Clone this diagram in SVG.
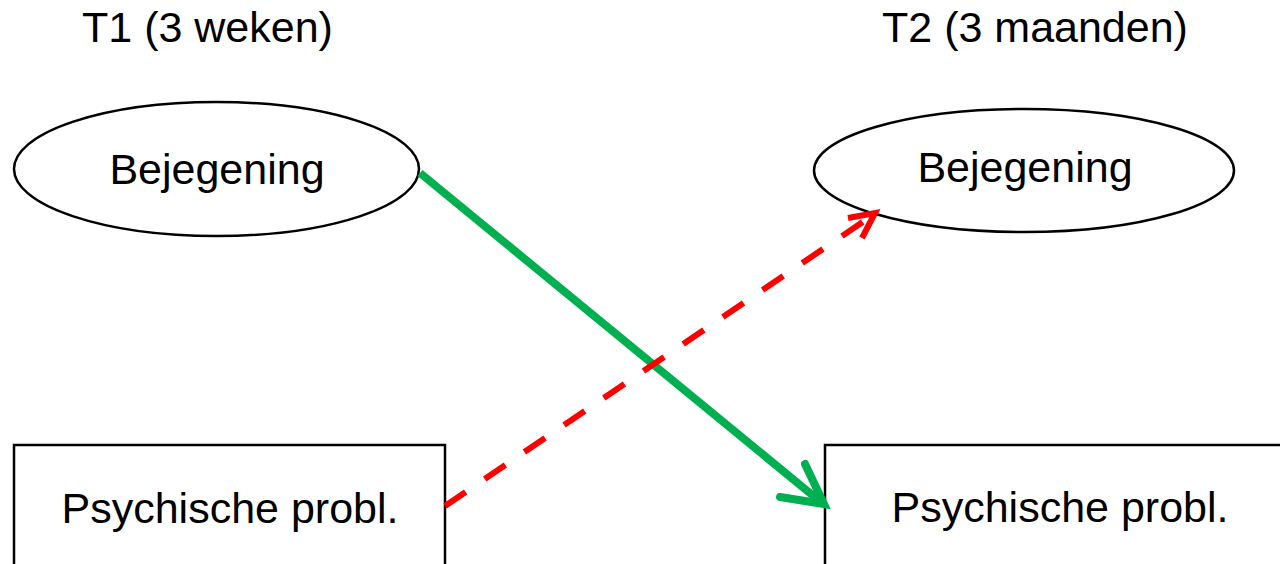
<svg xmlns="http://www.w3.org/2000/svg" width="1280" height="564" viewBox="0 0 1280 564">
<style>
text{font-family:"Liberation Sans",Arial,sans-serif;font-size:43px;fill:#000;}
.node{fill:#fff;stroke:#000;stroke-width:2.5;}
.green{fill:none;stroke:#00B050;stroke-width:8;stroke-linejoin:miter;}
.greenhead{fill:none;stroke:#00B050;stroke-width:8;stroke-linecap:round;stroke-linejoin:miter;}
.red{fill:none;stroke:#FF0000;stroke-width:6;stroke-dasharray:25 23;}
.redhead{fill:none;stroke:#FF0000;stroke-width:6;stroke-linejoin:miter;}
</style>
<rect width="1280" height="564" fill="#fff"/>
<g id="title-t1"><text x="82" y="42">T1 (3 weken)</text></g>
<g id="title-t2"><text x="882" y="42">T2 (3 maanden)</text></g>
<g id="bejegening-t1">
<ellipse class="node" cx="216.5" cy="169" rx="202.5" ry="67"/>
<text x="217" y="184" text-anchor="middle">Bejegening</text>
</g>
<g id="bejegening-t2">
<ellipse class="node" cx="1024" cy="170.5" rx="210" ry="61.5"/>
<text x="1025" y="182" text-anchor="middle">Bejegening</text>
</g>
<g id="psych-t1">
<rect class="node" x="14" y="445" width="431" height="140"/>
<text x="230" y="523" text-anchor="middle">Psychische probl.</text>
</g>
<g id="psych-t2">
<rect class="node" x="825" y="445" width="480" height="140"/>
<text x="1060" y="522" text-anchor="middle">Psychische probl.</text>
</g>
<g id="connectors">
<line class="green" x1="420" y1="173" x2="822" y2="503"/>
<polyline class="greenhead" points="805,464 824,504 780,497"/>
<line class="red" x1="445" y1="506" x2="873" y2="215"/>
<polyline class="redhead" points="848,218 875,213 862,238"/>
</g>
</svg>
